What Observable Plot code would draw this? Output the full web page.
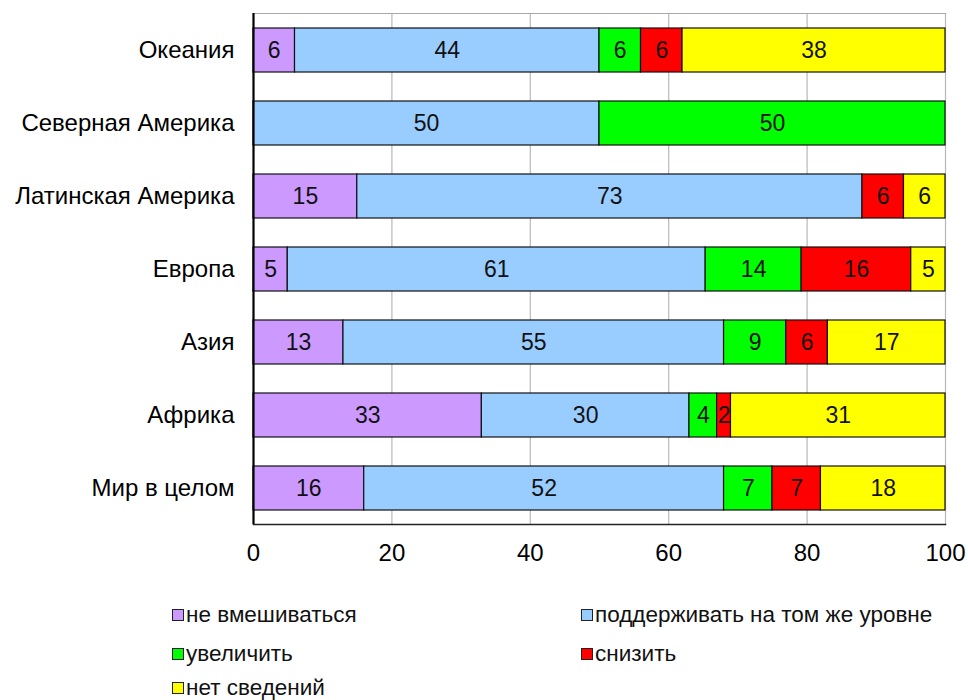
<!DOCTYPE html>
<html>
<head>
<meta charset="utf-8">
<script src="https://cdn.jsdelivr.net/npm/d3@7"></script>
<script src="https://cdn.jsdelivr.net/npm/@observablehq/plot@0.6"></script>
<style>
  html, body { margin: 0; padding: 0; background: #fff; }
  body { width: 968px; height: 700px; overflow: hidden; font-family: "Liberation Sans", Arial, sans-serif; }
  #legend {
    display: grid;
    grid-template-columns: 409px auto;
    grid-template-rows: 40px 38px 30px;
    padding-left: 172px;
    margin-top: 20px;
    font-size: 22.5px;
    line-height: 22px;
    color: #111;
  }
  .item { display: flex; align-items: center; white-space: nowrap; }
  .sw { width: 10px; height: 10px; border: 1.5px solid #222; margin-right: 2px; flex: none; }
</style>
</head>
<body>
<div id="chart"></div>
<div id="legend"></div>
<script>
const regions = ["Океания", "Северная Америка", "Латинская Америка", "Европа", "Азия", "Африка", "Мир в целом"];
const categories = ["не вмешиваться", "поддерживать на том же уровне", "увеличить", "снизить", "нет сведений"];
const colors = ["#CC99FF", "#99CCFF", "#00FF00", "#FF0000", "#FFFF00"];
const neVmeshivatsya = [6, 0, 15, 5, 13, 33, 16];
const podderzhivat = [44, 50, 73, 61, 55, 30, 52];
const uvelichit = [6, 50, 0, 14, 9, 4, 7];
const snizit = [6, 0, 6, 16, 6, 2, 7];
const netSvedeniy = [38, 0, 6, 5, 17, 31, 18];
const xTicks = [0, 20, 40, 60, 80, 100];

const series = [neVmeshivatsya, podderzhivat, uvelichit, snizit, netSvedeniy];
const rows = regions.flatMap((r, i) => categories.map((c, j) => ({region: r, category: c, value: series[j][i]})))
  .filter(d => d.value > 0);

const stackOpts = {offset: "normalize", order: categories, x: "value", y: "region", z: "category"};

const chart = Plot.plot({
  width: 968,
  height: 575,
  marginLeft: 253,
  marginRight: 23,
  marginTop: 13,
  marginBottom: 51,
  style: {fontFamily: "'Liberation Sans', Arial, sans-serif", fontSize: "24px", color: "#000", background: "#fff"},
  x: {percent: true, domain: [0, 100], ticks: xTicks, tickSize: 0, tickPadding: 19, label: null},
  y: {domain: regions, paddingInner: 0.4, paddingOuter: 0.2, tickSize: 0, tickPadding: 19, label: null},
  color: {domain: categories, range: colors},
  marks: [
    Plot.ruleX(xTicks.slice(1), {x: d => d / 100, stroke: "#b8b8b8", strokeWidth: 1.2}),
    Plot.frame({anchor: "top", stroke: "#a8a8a8", strokeWidth: 1.2}),
    Plot.barX(rows, Plot.stackX({...stackOpts, fill: "category", stroke: "#111", strokeWidth: 1.2})),
    Plot.text(rows, Plot.stackX({...stackOpts, text: d => d.value, fontSize: 23, fill: "#111"})),
    Plot.ruleX([0], {stroke: "#000", strokeWidth: 2.2}),
    Plot.frame({anchor: "bottom", stroke: "#222", strokeWidth: 1.6})
  ]
});
document.getElementById("chart").appendChild(chart);

const legend = document.getElementById("legend");
categories.forEach((c, i) => {
  const item = document.createElement("div");
  item.className = "item";
  const sw = document.createElement("span");
  sw.className = "sw";
  sw.style.background = colors[i];
  const t = document.createElement("span");
  t.textContent = c;
  item.appendChild(sw);
  item.appendChild(t);
  legend.appendChild(item);
});
</script>
</body>
</html>
